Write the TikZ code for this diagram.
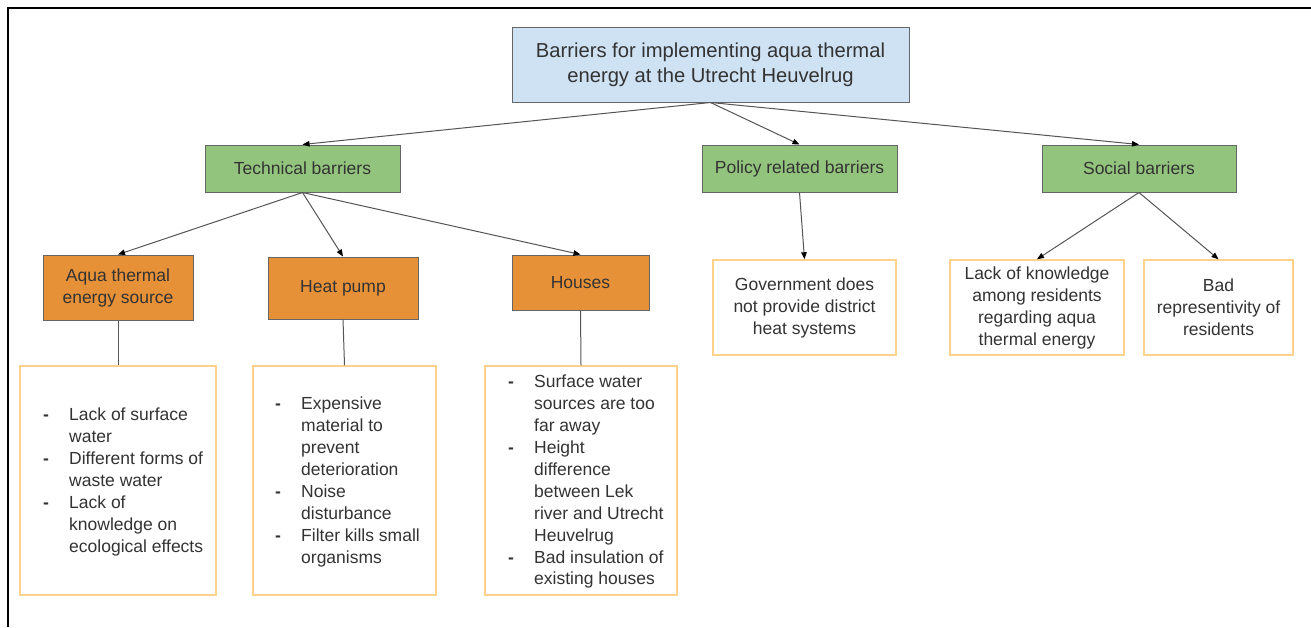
\documentclass[tikz,border=0pt]{standalone}
\usepackage{fontspec}
\setmainfont{Liberation Sans}
\usetikzlibrary{arrows.meta}
\definecolor{rootfill}{HTML}{CFE2F3}
\definecolor{greenfill}{HTML}{93C47D}
\definecolor{orangefill}{HTML}{E69138}
\definecolor{listborder}{HTML}{FFD28C}
\definecolor{boxborder}{HTML}{666666}
\definecolor{txt}{HTML}{333333}
\definecolor{conn}{HTML}{555555}
\begin{document}
\begin{tikzpicture}[x=1pt,y=-1pt,
  base/.style={rectangle, inner sep=0pt, draw=boxborder, line width=1pt, text=txt, align=center},
  rootbox/.style={base, fill=rootfill, font=\fontsize{20.2}{25}\selectfont},
  catbox/.style={base, fill=greenfill, font=\fontsize{17.5}{22}\selectfont},
  subbox/.style={base, fill=orangefill, font=\fontsize{17.5}{22}\selectfont},
  leafbox/.style={rectangle, inner sep=0pt, draw=listborder, line width=1.5pt, fill=white, text=txt, align=center, font=\fontsize{17.5}{22}\selectfont},
  listtext/.style={inner sep=0pt, anchor=west, text=txt, font=\fontsize{17.5}{21.9}\selectfont},
  arr/.style={draw=conn, line width=1pt, -{Triangle[length=7pt,width=5.5pt,color=black]}},
  link/.style={draw=conn, line width=1pt}
]
\useasboundingbox (0,0) rectangle (1311,627);
\fill[white] (0,0) rectangle (1311,627);
\draw[line width=2.5pt] (8,627) -- (8,8) -- (1311,8);

% root
\node[rootbox, minimum width=397pt, minimum height=75pt] (root) at (710.5,64.5)
  {\raisebox{-2pt}{\begin{tabular}{@{}c@{}}Barriers for implementing aqua thermal\\energy at the Utrecht Heuvelrug\end{tabular}}};

% categories
\node[catbox, minimum width=195pt, minimum height=47pt] (tech) at (302.5,168.5) {Technical barriers};
\node[catbox, minimum width=195pt, minimum height=47pt] (policy) at (799.5,168.5) {Policy related barriers};
\node[catbox, minimum width=194pt, minimum height=47pt] (social) at (1139,168.5) {Social barriers};

% technical sub categories
\node[subbox, minimum width=150pt, minimum height=65pt] (aqua) at (118,287.5) {Aqua thermal\\energy source};
\node[subbox, minimum width=150pt, minimum height=62pt] (heat) at (343,288) {Heat pump};
\node[subbox, minimum width=137pt, minimum height=55pt] (houses) at (580.5,282.5) {Houses};

% policy / social leaves
\node[leafbox, minimum width=183pt, minimum height=95pt] (gov) at (804.5,307.5)
  {Government does\\not provide district\\heat systems};
\node[leafbox, minimum width=174pt, minimum height=95pt] (lack) at (1037,307.5)
  {Lack of knowledge\\among residents\\regarding aqua\\thermal energy};
\node[leafbox, minimum width=149pt, minimum height=95pt] (bad) at (1218.5,307.5)
  {Bad\\representivity of\\residents};

% list boxes
\node[leafbox, minimum width=196pt, minimum height=229pt] (l1) at (118,480.5) {};
\node[leafbox, minimum width=183pt, minimum height=229pt] (l2) at (344.5,480.5) {};
\node[leafbox, minimum width=192pt, minimum height=229pt] (l3) at (581,480.5) {};

\node[listtext] (t1) at (43,482) {\begin{tabular}{@{}p{26pt}@{}l@{}}
\textbf{-} & Lack of surface\\
 & water\\
\textbf{-} & Different forms of\\
 & waste water\\
\textbf{-} & Lack of\\
 & knowledge on\\
 & ecological effects
\end{tabular}};
\node[listtext] (t2) at (275,482) {\begin{tabular}{@{}p{26pt}@{}l@{}}
\textbf{-} & Expensive\\
 & material to\\
 & prevent\\
 & deterioration\\
\textbf{-} & Noise\\
 & disturbance\\
\textbf{-} & Filter kills small\\
 & organisms
\end{tabular}};
\node[listtext] (t3) at (508,482) {\begin{tabular}{@{}p{26pt}@{}l@{}}
\textbf{-} & Surface water\\
 & sources are too\\
 & far away\\
\textbf{-} & Height\\
 & difference\\
 & between Lek\\
 & river and Utrecht\\
 & Heuvelrug\\
\textbf{-} & Bad insulation of\\
 & existing houses
\end{tabular}};

% connectors
\draw[arr] (root.south) -- (tech.north);
\draw[arr] (root.south) -- (policy.north);
\draw[arr] (root.south) -- (social.north);
\draw[arr] (tech.south) -- (aqua.north);
\draw[arr] (tech.south) -- (heat.north);
\draw[arr] (tech.south) -- (houses.north);
\draw[arr] (policy.south) -- (gov.north);
\draw[arr] (social.south) -- (lack.north);
\draw[arr] (social.south) -- (bad.north);
\draw[link] (aqua.south) -- (l1.north);
\draw[link] (heat.south) -- (l2.north);
\draw[link] (houses.south) -- (l3.north);
\end{tikzpicture}
\end{document}
